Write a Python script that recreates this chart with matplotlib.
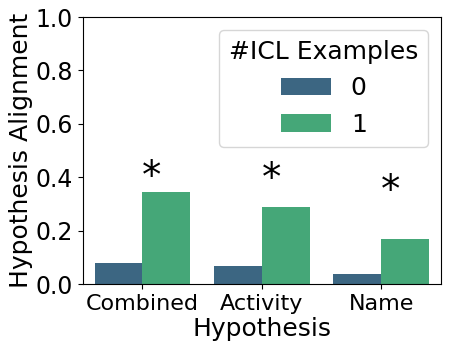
import matplotlib
matplotlib.use("Agg")
import matplotlib.pyplot as plt
import pandas as pd
import seaborn as sns

hypotheses = ["Combined", "Activity", "Name"]
icl_examples = ["0", "1"]
align_0 = [0.079, 0.066, 0.039]
align_1 = [0.345, 0.290, 0.167]
star_y = [0.40, 0.394, 0.347]

rows = []
for h, a0, a1 in zip(hypotheses, align_0, align_1):
    rows.append({"Hypothesis": h, "#ICL Examples": icl_examples[0], "Alignment": a0})
    rows.append({"Hypothesis": h, "#ICL Examples": icl_examples[1], "Alignment": a1})
df = pd.DataFrame(rows)

fig = plt.figure(figsize=(4.49, 3.49), dpi=100)
ax = fig.add_axes([0.184, 0.186, 0.798, 0.765])
sns.barplot(data=df, x="Hypothesis", y="Alignment", hue="#ICL Examples",
            palette="viridis", ax=ax)

for i, y in enumerate(star_y):
    ax.text(i, y, "*", fontsize=28, va="center")

ax.set_ylim(0, 1.0)
ax.set_xlim(-0.5, 2.5)
ax.set_xlabel("Hypothesis", fontsize=18, labelpad=2)
ax.set_ylabel("Hypothesis Alignment", fontsize=18, labelpad=2)
ax.tick_params(axis="y", labelsize=17)
ax.tick_params(axis="x", labelsize=16)
ax.legend(title="#ICL Examples", fontsize=18, title_fontsize=18, loc="upper right")

fig.savefig("out.png", dpi=100)
